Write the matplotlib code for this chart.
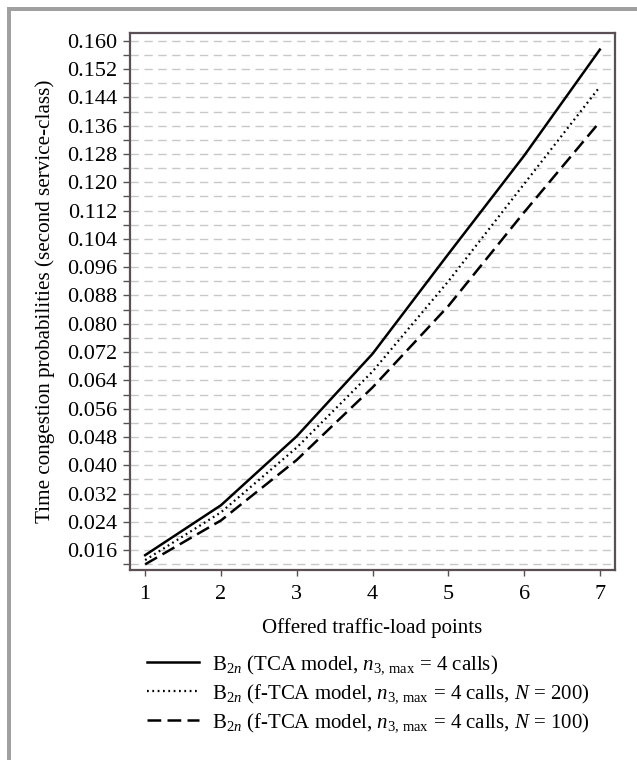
import matplotlib
matplotlib.use("Agg")
import matplotlib.pyplot as plt
from matplotlib.ticker import MultipleLocator, FormatStrFormatter
from matplotlib.patches import Rectangle

plt.rcParams['font.family'] = ['Liberation Serif', 'DejaVu Serif']
plt.rcParams['mathtext.fontset'] = 'custom'
plt.rcParams['mathtext.rm'] = 'Liberation Serif'
plt.rcParams['mathtext.it'] = 'Liberation Serif:italic'

load_points = [1, 2, 3, 4, 5, 6, 7]
tca = [0.0146, 0.0287, 0.0482, 0.0715, 0.0997, 0.1275, 0.1575]
ftca_200 = [0.0132, 0.0267, 0.0450, 0.0665, 0.0920, 0.1195, 0.1470]
ftca_100 = [0.0120, 0.0244, 0.0415, 0.0620, 0.0850, 0.1115, 0.1371]
labels = [
    r"B$_{2n}$ (TCA model, $n_{3,\,\mathrm{max}}$ = 4 calls)",
    r"B$_{2n}$ (f-TCA model, $n_{3,\,\mathrm{max}}$ = 4 calls, $N$ = 200)",
    r"B$_{2n}$ (f-TCA model, $n_{3,\,\mathrm{max}}$ = 4 calls, $N$ = 100)",
]

fig = plt.figure(figsize=(6.37, 7.6), dpi=100)
ax = fig.add_axes([130/637, 1-570/760, (615-130)/637, (570-33)/760])

# outer gray frame (top and left)
fig.patches.append(Rectangle((8/637, 1-11/760), 1, 4/760, transform=fig.transFigure,
                             color='#a0a0a0', lw=0))
fig.patches.append(Rectangle((7/637, 0), 4/637, 1-7/760, transform=fig.transFigure,
                             color='#a0a0a0', lw=0))

l1, = ax.plot(load_points, tca, color='black', lw=1.8, ls='-')
l2, = ax.plot(load_points, ftca_200, color='black', lw=1.6, ls=(0, (0.8, 1.6)))
l3, = ax.plot(load_points, ftca_100, color='black', lw=1.8, ls=(0, (5.5, 2.5)))

ax.set_xlim(0.8, 7.2)
ax.set_ylim(0.0104, 0.1622)
ax.xaxis.set_major_locator(MultipleLocator(1))
ax.yaxis.set_minor_locator(MultipleLocator(0.004))
ax.set_yticks([0.016 + 0.008*i for i in range(19)])
ax.yaxis.set_major_formatter(FormatStrFormatter('%.3f'))
ax.grid(True, axis='y', which='both', color='#c8c8c8', ls=(0, (6, 4)), lw=1.0)
ax.set_axisbelow(True)

spine_c = '#5a4f55'
for s in ax.spines.values():
    s.set_color(spine_c)
    s.set_linewidth(1.6)
ax.tick_params(axis='both', which='both', direction='out', color=spine_c, width=1.0)
ax.tick_params(axis='y', which='major', length=5, labelsize=16, pad=4)
ax.tick_params(axis='y', which='minor', length=5)
ax.tick_params(axis='x', which='major', length=4, labelsize=16, pad=7)

ax.set_xlabel("Offered traffic-load points", fontsize=15, labelpad=10)
ax.set_ylabel("Time congestion probabilities (second service-class)", fontsize=15.2, labelpad=9)

fig.legend([l1, l2, l3], labels, loc='upper left', bbox_to_anchor=(139/637, 1-645/760),
           frameon=False, fontsize=15, handlelength=2.5, handletextpad=0.58,
           labelspacing=0.3, borderaxespad=0)

fig.savefig("out.png", dpi=100)
